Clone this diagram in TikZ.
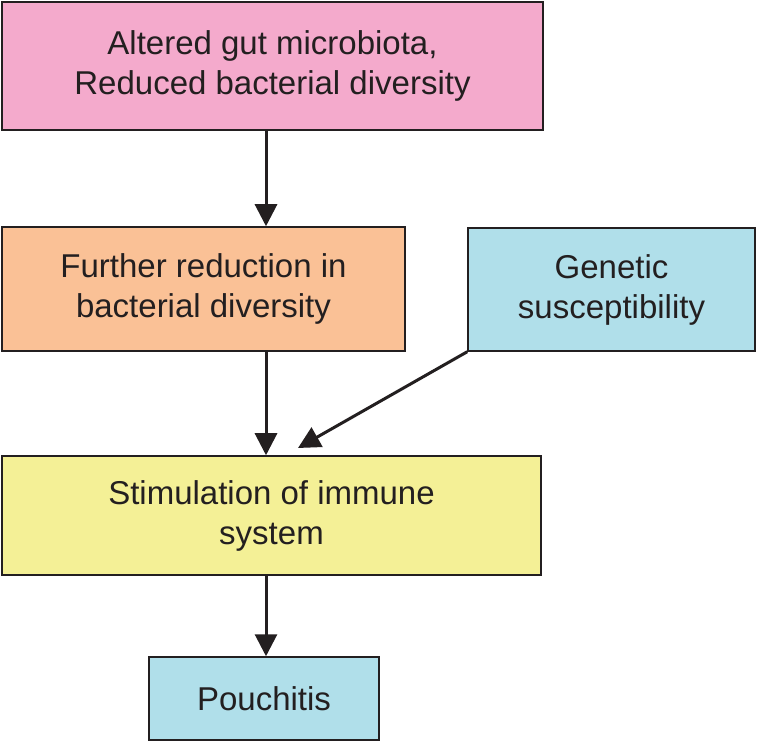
\documentclass[tikz,border=0pt]{standalone}
\usepackage{fontspec}
\setmainfont{Liberation Sans}
\usepackage{tikz}
\usetikzlibrary{arrows.meta}

\definecolor{pinkbox}{RGB}{244,170,204}
\definecolor{orangebox}{RGB}{250,193,150}
\definecolor{bluebox}{RGB}{176,223,234}
\definecolor{yellowbox}{RGB}{244,240,150}
\definecolor{inkline}{RGB}{35,31,32}

\tikzset{
    stepbox/.style={draw=inkline, line width=1.5pt, align=center, text=inkline,
        font=\fontsize{33}{40}\selectfont, inner sep=0pt},
    arr/.style={draw=inkline, line width=3pt, -{Triangle[length=22pt,width=22pt]}}
}

\begin{document}
\begin{tikzpicture}[x=1pt,y=1pt]
            \useasboundingbox (0,0) rectangle (757,742);
            \node[stepbox, fill=pinkbox, minimum width=541pt, minimum height=128pt] (altered) at (272.5,676){Altered gut microbiota,\\Reduced bacterial diversity};
            \node[stepbox, fill=orangebox, minimum width=403pt, minimum height=124pt] (further) at (203.5,453){Further reduction in\\bacterial diversity};
            \node[stepbox, fill=bluebox, minimum width=287pt, minimum height=123pt] (genetic) at (611.5,452.5){Genetic\\susceptibility};
            \node[stepbox, fill=yellowbox, minimum width=539pt, minimum height=119pt] (stimulation) at (271.5,226.5){Stimulation of immune\\system};
            \node[stepbox, fill=bluebox, minimum width=230pt, minimum height=83pt] (pouchitis) at (264,43.5){Pouchitis};
            \coordinate (geneticend) at (298,294);
            \draw[arr] (altered.south -| 266,0) -- (further.north -| 266,0);
            \draw[arr] (further.south -| 266,0) -- (stimulation.north -| 266,0);
            \draw[arr] (genetic.south west) -- (geneticend);
            \draw[arr] (stimulation.south -| 266,0) -- (pouchitis.north -| 266,0);
        \end{tikzpicture}
\end{document}
